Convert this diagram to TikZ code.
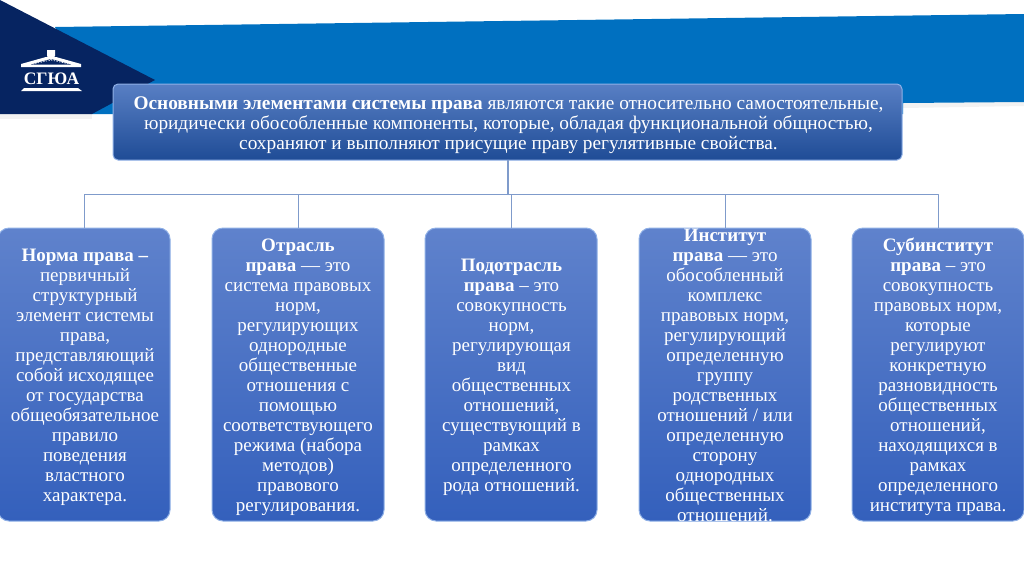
\documentclass[tikz,border=0pt]{standalone}
\usepackage{fontspec}
\setmainfont{Liberation Serif}
\definecolor{navy}{HTML}{062461}
\definecolor{banner}{HTML}{0070C0}
\definecolor{linkblue}{HTML}{7F9BCB}
\definecolor{edgeblue}{HTML}{8FB0E6}
\definecolor{boxtop}{HTML}{5F82CC}
\definecolor{boxbottom}{HTML}{3460BC}
\definecolor{headtop}{HTML}{587FC4}
\definecolor{headbottom}{HTML}{1F4C96}
\tikzset{
  lawbox/.style={draw=edgeblue,line width=1pt,rounded corners=11pt,top color=boxtop,bottom color=boxbottom,
    minimum width=172pt,minimum height=293pt,inner sep=0pt},
  headbox/.style={draw=edgeblue,line width=1pt,rounded corners=5pt,top color=headtop,bottom color=headbottom,
    minimum width=789pt,minimum height=76pt,inner sep=0pt},
  lawtext/.style={inner sep=0pt,align=center,text=white,font=\fontsize{19pt}{20pt}\selectfont},
  headtext/.style={lawtext,font=\fontsize{19.3pt}{20pt}\selectfont},
  link/.style={draw=linkblue,line width=1pt},
}
\begin{document}
\begin{tikzpicture}[x=1pt,y=-1pt,line cap=round,line join=round]
  \useasboundingbox (0,0) rectangle (1024,574);
  % banner and corner
  \fill[black!5] (0,114) -- (92,114) -- (92,119) -- (0,119) -- cycle;
  \fill[black!5] (903,103) -- (1024,101) -- (1024,106) -- (903,108) -- cycle;
  \fill[banner] (55,27) -- (1024,14) -- (1024,102) -- (903,103) -- (903,114) -- (92,114) -- cycle;
  \fill[navy] (0,0) -- (155,80) -- (92,114) -- (0,114) -- cycle;
  % logo
  \fill[white] (21,64) -- (46,57) -- (56,57) -- (81,64) -- (81,67) -- (21,67) -- cycle;
  \fill[navy] (31,64.5) -- (51,59) -- (71,64.5) -- cycle;
  \fill[white] (47,50) -- (55,50) -- (55,56) -- (51,60) -- (47,56) -- cycle;
  \draw[white,line width=0.7pt,dotted] (33,64) -- (51,60) -- (69,64);
  \node[text=white,font=\fontsize{17.5pt}{17.5pt}\selectfont\bfseries,inner sep=0pt] (logo) at (51.5,79) {СГЮА};
  \fill[white] (24,88) -- (78,88) -- (82,91) -- (21,91) -- cycle;
  % boxes
  \node[headbox] (head) at (507.5,122) {};
  \node[lawbox] (norma) at (84,374.5) {};
  \node[lawbox] (otrasl) at (298,374.5) {};
  \node[lawbox] (podotrasl) at (511,374.5) {};
  \node[lawbox] (institut) at (725,374.5) {};
  \node[lawbox] (subinstitut) at (938,374.5) {};
  % texts
  \node[headtext] (headtxt) at (508.5,125) {\textbf{Основными элементами системы права} являются такие относительно самостоятельные,\\
    юридически обособленные компоненты, которые, обладая функциональной общностью,\\
    сохраняют и выполняют присущие праву регулятивные свойства.};
  \node[lawtext] (normatxt) at (85,377) {\textbf{Норма права –}\\первичный\\структурный\\элемент системы\\права,\\представляющий\\собой исходящее\\от государства\\общеобязательное\\правило\\поведения\\властного\\характера.};
  \node[lawtext] (otrasltxt) at (298,377) {\textbf{Отрасль}\\\textbf{права} — это\\система правовых\\норм,\\регулирующих\\однородные\\общественные\\отношения с\\помощью\\соответствующего\\режима (набора\\методов)\\правового\\регулирования.};
  \node[lawtext] (podotrasltxt) at (511.5,377) {\textbf{Подотрасль}\\\textbf{права} – это\\совокупность\\норм,\\регулирующая\\вид\\общественных\\отношений,\\существующий в\\рамках\\определенного\\рода отношений.};
  \node[lawtext] (instituttxt) at (725,375.5) {\textbf{Институт}\\\textbf{права} — это\\обособленный\\комплекс\\правовых норм,\\регулирующий\\определенную\\группу\\родственных\\отношений / или\\определенную\\сторону\\однородных\\общественных\\отношений.};
  \node[lawtext] (subinstituttxt) at (938,376.5) {\textbf{Субинститут}\\\textbf{права} – это\\совокупность\\правовых норм,\\которые\\регулируют\\конкретную\\разновидность\\общественных\\отношений,\\находящихся в\\рамках\\определенного\\института права.};
  % links
  \coordinate (bus) at (507.5,194);
  \draw[link,line width=2pt] (head.south) -- (bus);
  \draw[link] (bus) -| (norma.north);
  \draw[link] (bus) -| (otrasl.north);
  \draw[link] (bus) -| (podotrasl.north);
  \draw[link] (bus) -| (institut.north);
  \draw[link] (bus) -| (subinstitut.north);
\end{tikzpicture}
\end{document}
